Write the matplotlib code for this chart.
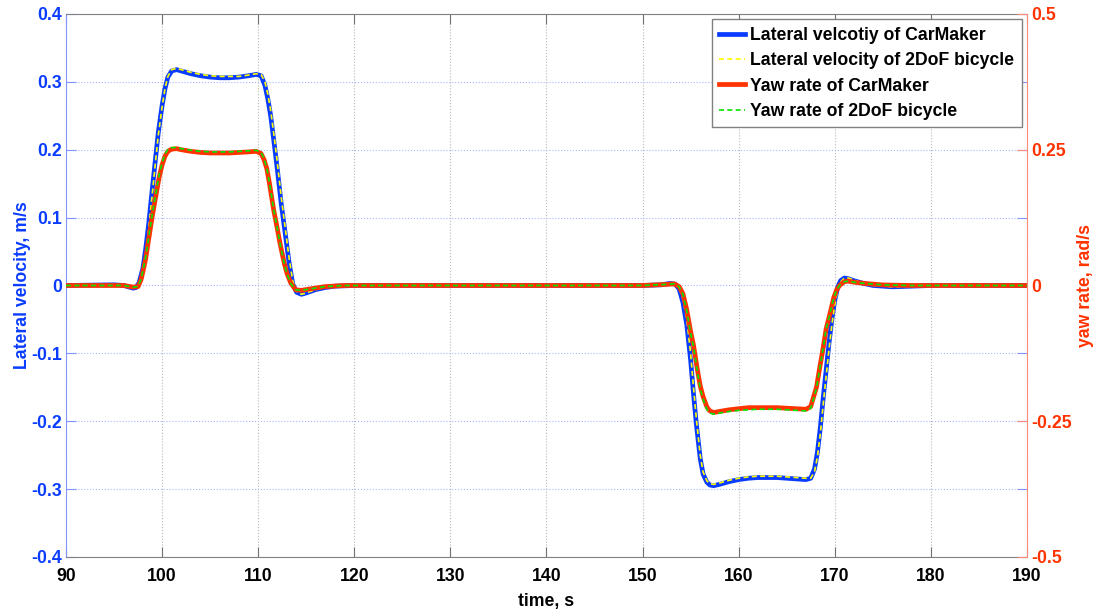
import numpy as np
import matplotlib
matplotlib.use('Agg')
import matplotlib.pyplot as plt

plt.rcParams['font.family'] = ['Liberation Sans', 'DejaVu Sans']
plt.rcParams['font.weight'] = 'bold'
plt.rcParams['axes.unicode_minus'] = False

# lateral velocity samples, m/s (CarMaker and 2DoF bicycle share time knots)
t_vy = [90, 95, 96, 96.5, 97, 97.3, 97.6, 98.0, 98.3, 98.6, 99.0, 99.3, 99.6, 100.0, 100.3,
        100.6, 101.0, 101.5, 102, 103, 104, 105, 106, 107, 108, 109, 109.8, 110.3, 110.7, 111.0,
        111.3, 111.7, 112.0, 112.4, 112.8, 113.2, 113.6, 114.0, 114.5, 115, 116, 117, 118, 120, 130,
        140, 150, 152, 152.8, 153.4, 153.8, 154.2, 154.6, 155.0, 155.3, 155.6, 156.0, 156.3, 156.7, 157.0,
        157.4, 158, 159, 160, 161, 162, 163, 164, 165, 166, 167, 167.5, 167.9, 168.2, 168.5,
        168.8, 169.1, 169.4, 169.7, 170.0, 170.3, 170.6, 171.0, 171.4, 172, 173, 174, 176, 178, 180, 190]
vy_cm = [0.000, 0.001, 0.000, -0.002, -0.004, -0.003, 0.004, 0.025, 0.055, 0.090, 0.145, 0.185, 0.225, 0.265, 0.290,
         0.307, 0.316, 0.318, 0.316, 0.312, 0.309, 0.307, 0.306, 0.306, 0.307, 0.309, 0.311, 0.309, 0.295, 0.275,
         0.250, 0.205, 0.170, 0.120, 0.078, 0.035, 0.002, -0.010, -0.013, -0.011, -0.006, -0.003, -0.001, 0.000, 0.000,
         0.000, 0.000, 0.001, 0.003, 0.002, -0.005, -0.025, -0.058, -0.110, -0.160, -0.205, -0.255, -0.278, -0.290, -0.294,
         -0.295, -0.293, -0.289, -0.286, -0.284, -0.283, -0.283, -0.283, -0.284, -0.285, -0.286, -0.284, -0.270, -0.245, -0.209,
         -0.165, -0.125, -0.085, -0.050, -0.022, -0.003, 0.007, 0.011, 0.010, 0.007, 0.003, 0.000, -0.002, -0.001, 0.000, 0.000]
vy_2dof = [0.000, 0.000, 0.000, -0.001, -0.003, -0.003, 0.002, 0.020, 0.048, 0.083, 0.138, 0.180, 0.221, 0.263, 0.290,
           0.308, 0.318, 0.320, 0.318, 0.314, 0.311, 0.309, 0.308, 0.308, 0.308, 0.310, 0.312, 0.311, 0.300, 0.282,
           0.258, 0.215, 0.180, 0.130, 0.086, 0.042, 0.006, -0.009, -0.013, -0.011, -0.006, -0.003, -0.001, 0.000, 0.000,
           0.000, 0.000, 0.001, 0.003, 0.003, -0.003, -0.020, -0.050, -0.100, -0.150, -0.197, -0.250, -0.275, -0.288, -0.292,
           -0.293, -0.291, -0.287, -0.284, -0.282, -0.281, -0.281, -0.281, -0.282, -0.283, -0.284, -0.284, -0.274, -0.252, -0.218,
           -0.175, -0.134, -0.094, -0.058, -0.028, -0.007, 0.005, 0.011, 0.011, 0.008, 0.003, 0.000, -0.002, -0.001, 0.000, 0.000]

# yaw rate samples, rad/s
t_r = [90, 96, 97, 97.5, 97.8, 98.0, 98.3, 98.6, 99.0, 99.4, 99.7, 100.0, 100.3, 100.6, 101.0,
       101.5, 102, 103, 104, 105, 106, 107, 108, 109, 109.8, 110.3, 110.6, 110.9, 111.2, 111.6,
       111.9, 112.3, 112.7, 113.0, 113.4, 113.9, 114.5, 115.5, 117, 119, 150, 152.5, 153.3, 153.8, 154.2,
       154.6, 155.0, 155.3, 155.7, 156.0, 156.3, 156.7, 157.0, 157.4, 158, 159, 160, 161, 162, 163,
       164, 165, 166, 167, 167.5, 167.8, 168.1, 168.4, 168.8, 169.1, 169.5, 169.9, 170.2, 170.5, 171.0,
       171.4, 172, 173, 175, 178, 190]
r_cm = [0.000, 0.000, -0.003, -0.002, 0.010, 0.025, 0.050, 0.085, 0.130, 0.170, 0.200, 0.222, 0.238, 0.247, 0.251,
        0.252, 0.250, 0.247, 0.245, 0.244, 0.244, 0.244, 0.245, 0.246, 0.247, 0.243, 0.232, 0.215, 0.185, 0.140,
        0.113, 0.075, 0.042, 0.022, 0.004, -0.008, -0.009, -0.006, -0.002, 0.000, 0.000, 0.002, 0.003, -0.002, -0.015,
        -0.045, -0.085, -0.110, -0.155, -0.185, -0.205, -0.224, -0.231, -0.234, -0.232, -0.229, -0.227, -0.225, -0.225, -0.225,
        -0.225, -0.226, -0.227, -0.228, -0.223, -0.205, -0.187, -0.155, -0.114, -0.080, -0.052, -0.022, -0.008, 0.000, 0.007,
        0.008, 0.006, 0.004, 0.001, 0.000, 0.000]
r_2dof = [0.000, 0.000, -0.003, -0.002, 0.011, 0.027, 0.053, 0.088, 0.134, 0.174, 0.204, 0.226, 0.242, 0.251, 0.254,
          0.254, 0.252, 0.249, 0.247, 0.246, 0.246, 0.246, 0.247, 0.248, 0.249, 0.245, 0.234, 0.216, 0.186, 0.141,
          0.113, 0.075, 0.041, 0.021, 0.003, -0.008, -0.009, -0.006, -0.002, 0.000, 0.000, 0.002, 0.003, -0.002, -0.016,
          -0.047, -0.088, -0.113, -0.159, -0.190, -0.210, -0.229, -0.235, -0.237, -0.235, -0.232, -0.230, -0.229, -0.228, -0.228,
          -0.228, -0.229, -0.230, -0.231, -0.226, -0.208, -0.189, -0.157, -0.115, -0.080, -0.052, -0.022, -0.008, 0.000, 0.007,
          0.008, 0.006, 0.004, 0.001, 0.000, 0.000]

x_ticks = [90, 100, 110, 120, 130, 140, 150, 160, 170, 180, 190]
vy_ticks = [-0.4, -0.3, -0.2, -0.1, 0, 0.1, 0.2, 0.3, 0.4]
vy_tick_labels = ['-0.4', '-0.3', '-0.2', '-0.1', '0', '0.1', '0.2', '0.3', '0.4']
r_ticks = [-0.5, -0.25, 0, 0.25, 0.5]
r_tick_labels = ['-0.5', '-0.25', '0', '0.25', '0.5']

BLUE = '#0a3cff'
RED = '#ff3300'
FS = 12.7

fig = plt.figure(figsize=(11, 6.13), dpi=100)
ax1 = fig.add_axes([0.06, 0.0914, 0.8736, 0.8858])
ax2 = ax1.twinx()

l1, = ax1.plot(t_vy, vy_cm, color=BLUE, lw=3.4, label='Lateral velcotiy of CarMaker')
l2, = ax1.plot(t_vy, vy_2dof, color='#ffff00', lw=1.2, ls='--', dashes=(3, 2),
               label='Lateral velocity of 2DoF bicycle')
l3, = ax2.plot(t_r, r_cm, color=RED, lw=3.4, label='Yaw rate of CarMaker')
l4, = ax2.plot(t_r, r_2dof, color='#00e600', lw=1.2, ls='--', dashes=(3, 2),
               label='Yaw rate of 2DoF bicycle')

ax1.set_xlim(90, 190)
ax1.set_ylim(-0.4, 0.4)
ax2.set_ylim(-0.5, 0.5)

ax1.set_xticks(x_ticks)
ax1.set_xticklabels([str(v) for v in x_ticks], fontsize=FS, fontweight='bold')
ax1.set_yticks(vy_ticks)
ax1.set_yticklabels(vy_tick_labels, fontsize=FS, fontweight='bold', color=BLUE)
ax2.set_yticks(r_ticks)
ax2.set_yticklabels(r_tick_labels, fontsize=FS, fontweight='bold', color=RED)

ax1.tick_params(axis='x', direction='in', length=7, width=0.8, color='#707070', top=True, pad=8)
ax1.tick_params(axis='y', direction='in', length=7, width=0.8, color='#7f95ff', right=True, pad=3)
ax2.tick_params(axis='y', direction='in', length=7, width=0.8, color='#ff8a78', pad=3)

ax1.grid(axis='x', color='#b8b8b8', ls=':', lw=0.8)
ax1.grid(axis='y', color='#a8b6ff', ls=':', lw=0.8)

for s in ['top', 'bottom']:
    ax1.spines[s].set_color('#808080')
ax1.spines['left'].set_color('#7f95ff')
ax1.spines['right'].set_visible(False)
ax2.spines['right'].set_color('#ff8a78')
for s in ['top', 'bottom', 'left']:
    ax2.spines[s].set_visible(False)

ax1.set_xlabel('time, s', fontsize=FS, fontweight='bold', labelpad=6)
ax1.set_ylabel('Lateral velocity, m/s', fontsize=FS, fontweight='bold', color=BLUE, labelpad=0)
ax2.set_ylabel('yaw rate, rad/s', fontsize=FS, fontweight='bold', color=RED, labelpad=4)

leg = ax2.legend(handles=[l1, l2, l3, l4], loc='upper right',
                 prop={'weight': 'bold', 'size': FS}, fancybox=False, framealpha=1,
                 edgecolor='#808080', borderaxespad=0.3, handlelength=1.45,
                 handletextpad=0.3, borderpad=0.42, labelspacing=0.48)
leg.get_frame().set_linewidth(1.0)

fig.savefig('out.png', dpi=100)
